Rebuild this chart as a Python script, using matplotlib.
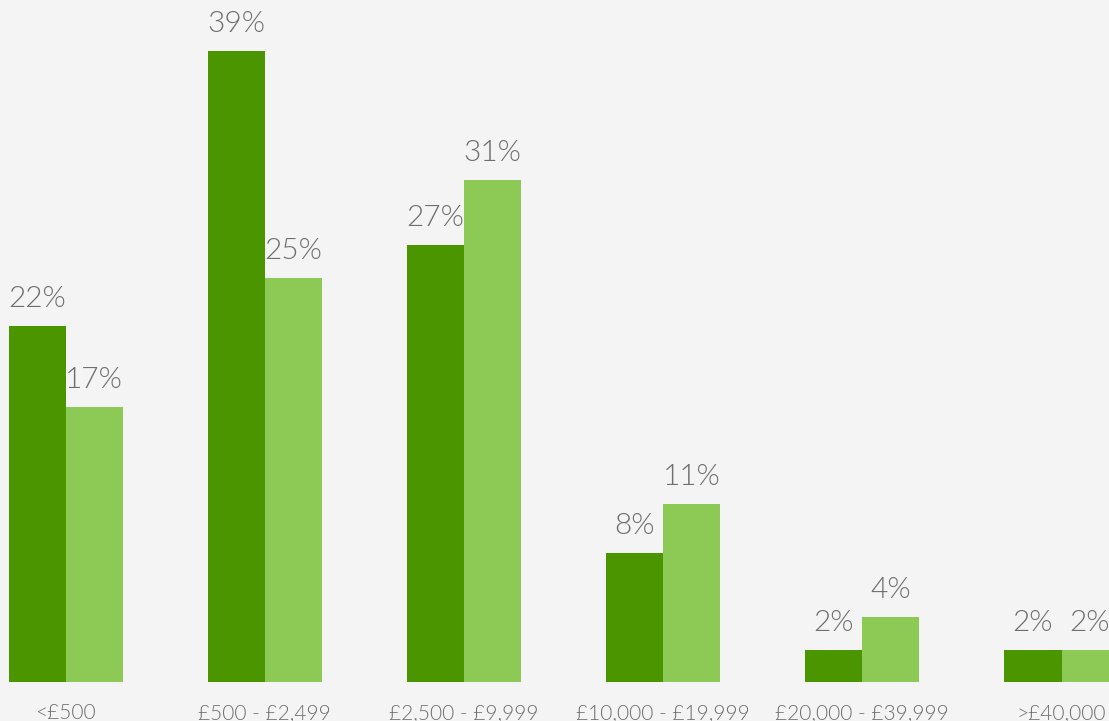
import matplotlib
matplotlib.use("Agg")
import matplotlib.pyplot as plt
import numpy as np

categories = ["<£500", "£500 - £2,499", "£2,500 - £9,999",
              "£10,000 - £19,999", "£20,000 - £39,999", ">£40,000"]
series_a = [22, 39, 27, 8, 2, 2]
series_b = [17, 25, 31, 11, 4, 2]

dark_green = "#4b9600"
light_green = "#8cc955"
bg = "#f4f4f4"
text_col = "#6e6e6e"

plt.rcParams["font.family"] = ["Lato", "DejaVu Sans"]

W, H = 1109, 721
fig = plt.figure(figsize=(W / 100, H / 100), dpi=100, facecolor=bg)

base_px = 39
ax = fig.add_axes([0, base_px / H, 1, (H - base_px) / H])
ax.set_facecolor(bg)

pitch = 199.2          # px between groups
bar_px = 57.0          # px per bar
first_center = 65.5    # px, centre of first group
width = bar_px / pitch

x = np.arange(len(categories))
ax.bar(x - width / 2, series_a, width=width, color=dark_green, linewidth=0)
ax.bar(x + width / 2, series_b, width=width, color=light_green, linewidth=0)

ax.set_xlim(-first_center / pitch, (W - first_center) / pitch)
px_per_unit = 631 / 39
ax.set_ylim(0, (H - base_px) / px_per_unit)

for xi, va, vb in zip(x, series_a, series_b):
    for xpos, v in ((xi - width / 2, va), (xi + width / 2, vb)):
        ax.annotate(f"{v}%", (xpos, v), xytext=(0, 19), textcoords="offset pixels",
                    ha="center", va="baseline", fontsize=21.5, color=text_col,
                    fontweight=300, annotation_clip=False)

for xi, cat in zip(x, categories):
    ax.annotate(cat, (xi, 0), xytext=(0, -21), textcoords="offset pixels",
                ha="center", va="top", fontsize=15, color=text_col,
                fontweight=300, annotation_clip=False)

for s in ax.spines.values():
    s.set_visible(False)
ax.set_xticks([])
ax.set_yticks([])

fig.savefig("out.png", dpi=100, facecolor=bg)
